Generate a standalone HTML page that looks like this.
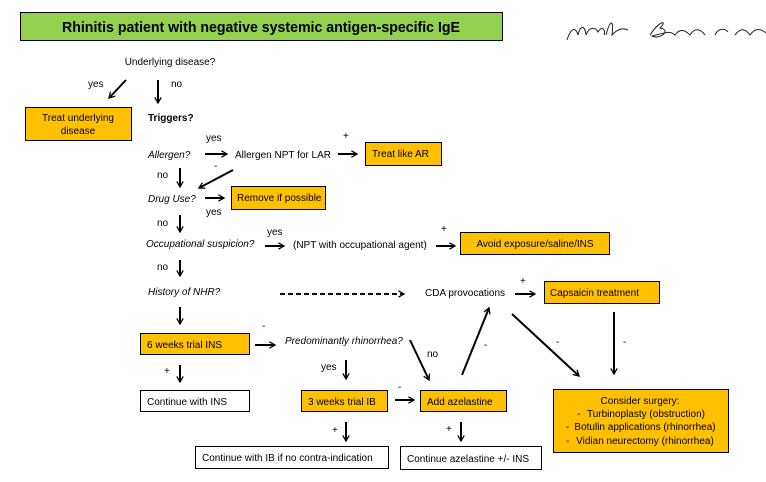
<!DOCTYPE html>
<html><head><meta charset="utf-8"><style>
html,body{margin:0;padding:0;background:#fff;}
svg{display:block;font-family:"Liberation Sans",Arial,sans-serif;}
text{font-size:10px;fill:#000;}
.i{font-style:italic;}
.b{fill:#ffc000;stroke:#000;stroke-width:1;}
.w{fill:#fff;stroke:#000;stroke-width:1;}
.a{stroke:#000;stroke-width:2;fill:none;marker-end:url(#m);}
</style></head><body>
<svg width="766" height="482" viewBox="0 0 766 482">
<defs><marker id="m" viewBox="0 0 10 10" refX="8" refY="5" markerWidth="4" markerHeight="4" orient="auto" markerUnits="strokeWidth"><path d="M1,1 L8,5 L1,9" fill="none" stroke="#000" stroke-width="1.6"/></marker></defs>
<rect x="20.5" y="12.5" width="482" height="28" fill="#92d050" stroke="#000"/>
<text x="62" y="32" style="font-size:15px;font-weight:bold" textLength="398" lengthAdjust="spacingAndGlyphs">Rhinitis patient with negative systemic antigen-specific IgE</text>
<path d="M567,40 C570,30 575,25 578,35 C580,25 585,25 586,35 C590,25 596,28 598,32 C602,25 606,30 604,35 M606,35 C610,20 614,18 612,35 C618,28 624,28 628,30 M650,35 C660,20 668,20 660,28 C672,30 660,40 652,36 C665,33 670,30 675,35 C680,28 685,30 690,35 C694,28 700,28 705,35 M715,35 C718,28 725,28 728,32 M735,35 C740,28 745,28 750,35 C755,28 760,28 766,33" fill="none" stroke="#222" stroke-width="1"/>
<text x="170" y="65" text-anchor="middle">Underlying disease?</text>
<line class="a" x1="126" y1="80" x2="109" y2="98"/>
<line class="a" x1="158" y1="80" x2="158" y2="103"/>
<text x="88" y="87">yes</text><text x="171" y="87">no</text>
<rect class="b" x="25.5" y="107.5" width="106" height="33"/>
<text x="78" y="121" text-anchor="middle">Treat underlying</text>
<text x="78" y="134" text-anchor="middle">disease</text>
<text x="148" y="121" style="font-weight:bold">Triggers?</text>
<text class="i" x="148" y="158">Allergen?</text>
<text x="206" y="141">yes</text>
<line class="a" x1="205" y1="154" x2="227" y2="154"/>
<text x="235" y="158">Allergen NPT for LAR</text>
<text x="343" y="139">+</text>
<line class="a" x1="338" y1="154" x2="357" y2="154"/>
<rect class="b" x="365.5" y="142.5" width="76" height="23"/>
<text x="372" y="157">Treat like AR</text>
<text x="214" y="169">-</text>
<line class="a" x1="233" y1="170" x2="199" y2="188"/>
<text x="157" y="178">no</text>
<line class="a" x1="180" y1="168" x2="180" y2="187"/>
<text class="i" x="148" y="202">Drug Use?</text>
<line class="a" x1="205" y1="198" x2="224" y2="198"/>
<rect class="b" x="231.5" y="186.5" width="94" height="23"/>
<text x="237" y="201">Remove if possible</text>
<text x="206" y="215">yes</text>
<text x="157" y="226">no</text>
<line class="a" x1="180" y1="215" x2="180" y2="232"/>
<text class="i" x="146" y="247">Occupational suspicion?</text>
<text x="267" y="235">yes</text>
<line class="a" x1="265" y1="246" x2="284" y2="246"/>
<text x="293" y="248">(NPT with occupational agent)</text>
<text x="441" y="232">+</text>
<line class="a" x1="436" y1="246" x2="455" y2="246"/>
<rect class="b" x="460.5" y="232.5" width="149" height="22"/>
<text x="535" y="247" text-anchor="middle">Avoid exposure/saline/INS</text>
<text x="157" y="270">no</text>
<line class="a" x1="180" y1="260" x2="180" y2="276"/>
<text class="i" x="148" y="295">History of NHR?</text>
<line class="a" x1="280" y1="294" x2="404" y2="294" style="stroke-dasharray:5,3"/>
<text x="425" y="296">CDA provocations</text>
<text x="520" y="284">+</text>
<line class="a" x1="515" y1="294" x2="535" y2="294"/>
<rect class="b" x="544.5" y="281.5" width="115" height="22"/>
<text x="550" y="296">Capsaicin treatment</text>
<line class="a" x1="180" y1="307" x2="180" y2="324"/>
<rect class="b" x="140.5" y="333.5" width="109" height="21"/>
<text x="147" y="348">6 weeks trial INS</text>
<text x="262" y="329">-</text>
<line class="a" x1="255" y1="345" x2="275" y2="345"/>
<text class="i" x="285" y="344">Predominantly rhinorrhea?</text>
<text x="164" y="374">+</text>
<line class="a" x1="180" y1="365" x2="180" y2="382"/>
<rect class="w" x="140.5" y="390.5" width="109" height="21"/>
<text x="147" y="405">Continue with INS</text>
<text x="321" y="370">yes</text>
<line class="a" x1="346" y1="360" x2="346" y2="379"/>
<line class="a" x1="410" y1="340" x2="429" y2="380"/>
<text x="427" y="357">no</text>
<rect class="b" x="301.5" y="390.5" width="86" height="21"/>
<text x="308" y="405">3 weeks trial IB</text>
<text x="398" y="390">-</text>
<line class="a" x1="395" y1="400" x2="414" y2="400"/>
<rect class="b" x="420.5" y="390.5" width="86" height="21"/>
<text x="427" y="405">Add azelastine</text>
<line class="a" x1="462" y1="375" x2="489" y2="308"/>
<text x="484" y="348">-</text>
<line class="a" x1="512" y1="314" x2="579" y2="376"/>
<text x="556" y="345">-</text>
<line class="a" x1="614" y1="312" x2="614" y2="374"/>
<text x="623" y="345">-</text>
<rect class="b" x="553.5" y="389.5" width="175" height="63"/>
<text x="640" y="404" text-anchor="middle">Consider surgery:</text>
<text x="577" y="417">-</text><text x="646" y="417" text-anchor="middle">Turbinoplasty (obstruction)</text>
<text x="566" y="430">-</text><text x="645" y="430" text-anchor="middle">Botulin applications (rhinorrhea)</text>
<text x="566" y="444">-</text><text x="645" y="444" text-anchor="middle">Vidian neurectomy (rhinorrhea)</text>
<text x="332" y="433">+</text>
<line class="a" x1="346" y1="422" x2="346" y2="441"/>
<rect class="w" x="195.5" y="446.5" width="193" height="22"/>
<text x="202" y="461">Continue with IB if no contra-indication</text>
<text x="446" y="432">+</text>
<line class="a" x1="461" y1="422" x2="461" y2="441"/>
<rect class="w" x="400.5" y="446.5" width="141" height="23"/>
<text x="407" y="462">Continue azelastine +/- INS</text>
</svg>
</body></html>
